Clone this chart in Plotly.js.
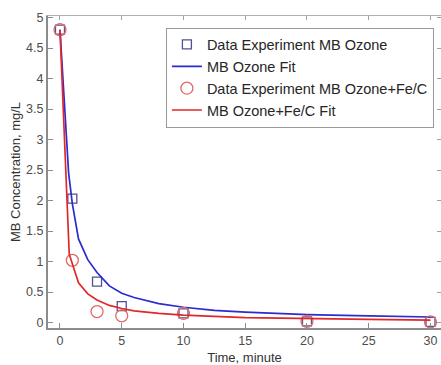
<!DOCTYPE html>
<html>
<head>
<meta charset="utf-8">
<script src="https://cdn.plot.ly/plotly-3.0.1.min.js"></script>
<style>html,body{margin:0;padding:0;background:#fff;overflow:hidden;}</style>
</head>
<body>
<div id="chart" style="width:441px;height:365px;"></div>
<script>
// Experimental data
const timeData = [0, 1, 3, 5, 10, 20, 30];
const ozoneData = [4.8, 2.03, 0.67, 0.27, 0.15, 0.02, 0.01];
const fecData = [4.8, 1.02, 0.18, 0.11, 0.15, 0.02, 0.01];

// Fit curves
const ozoneFitT = [0, 0.7, 1, 1.5, 2.25, 3, 4, 5, 6, 8, 10, 12.5, 15, 20, 25, 30];
const ozoneFitY = [4.8, 2.45, 1.95, 1.37, 1.03, 0.82, 0.6, 0.48, 0.41, 0.31, 0.25, 0.2, 0.17, 0.13, 0.11, 0.09];
const fecFitT = [0, 0.75, 1.5, 2.25, 3, 4, 5, 6, 8, 10, 15, 20, 25, 30];
const fecFitY = [4.8, 1.12, 0.65, 0.47, 0.37, 0.28, 0.23, 0.19, 0.15, 0.12, 0.08, 0.06, 0.05, 0.04];

const xTicks = [0, 5, 10, 15, 20, 25, 30];
const yTicks = [0, 0.5, 1, 1.5, 2, 2.5, 3, 3.5, 4, 4.5, 5];
const yTickText = ['0', '0.5', '1', '1.5', '2', '2.5', '3', '3.5', '4', '4.5', '5'];

const xRange = [-0.97, 30.85];
const yRange = [-0.09, 5.025];

const traces = [
  {x: timeData, y: ozoneData, mode: 'markers', name: 'Data Experiment MB Ozone',
   marker: {symbol: 'square-open', size: 9, color: '#4f5290', line: {width: 1.3}}},
  {x: ozoneFitT, y: ozoneFitY, mode: 'lines', name: 'MB Ozone Fit',
   line: {color: '#2b2bd0', width: 1.7}},
  {x: timeData, y: fecData, mode: 'markers', name: 'Data Experiment MB Ozone+Fe/C',
   marker: {symbol: 'circle-open', size: 12, color: '#e06a6a', line: {width: 1.3}}},
  {x: fecFitT, y: fecFitY, mode: 'lines', name: 'MB Ozone+Fe/C Fit',
   line: {color: '#e02828', width: 1.7}},
  {x: [], y: [], xaxis: 'x2', yaxis: 'y2', showlegend: false, hoverinfo: 'skip'}
];

const tickFont = {family: 'Liberation Sans, Arial, sans-serif', size: 12.5, color: '#4d4d4d'};

const layout = {
  width: 441, height: 365,
  margin: {l: 48, r: 0, t: 15.5, b: 37.3},
  paper_bgcolor: '#fff', plot_bgcolor: '#fff',
  showlegend: true,
  legend: {
    x: 0.30, y: 0.963, xanchor: 'left', yanchor: 'top',
    bgcolor: '#fff', bordercolor: '#9a9a9a', borderwidth: 1,
    font: {family: 'Liberation Sans, Arial, sans-serif', size: 14.5, color: '#262626'},
    tracegroupgap: 0
  },
  xaxis: {
    range: xRange, tickvals: xTicks, ticktext: xTicks.map(String),
    showline: true, linecolor: '#8c8c8c', linewidth: 2,
    ticks: 'inside', ticklen: 5, tickcolor: '#8c8c8c', tickwidth: 1,
    showgrid: false, zeroline: false, tickfont: tickFont,
    title: {text: 'Time, minute', font: {family: 'Liberation Sans, Arial, sans-serif', size: 13, color: '#333'}, standoff: 7}
  },
  yaxis: {
    range: yRange, tickvals: yTicks, ticktext: yTickText,
    showline: true, linecolor: '#8c8c8c', linewidth: 2,
    ticks: 'inside', ticklen: 5, tickcolor: '#8c8c8c', tickwidth: 1,
    showgrid: false, zeroline: false, tickfont: tickFont,
    title: {text: 'MB Concentration, mg/L', font: {family: 'Liberation Sans, Arial, sans-serif', size: 13, color: '#333'}, standoff: 3}
  },
  xaxis2: {
    overlaying: 'x', side: 'top', range: xRange, tickvals: xTicks,
    showticklabels: false, showline: true, linecolor: '#b0b0b0', linewidth: 1,
    ticks: 'inside', ticklen: 4, tickcolor: '#a0a0a0', showgrid: false, zeroline: false
  },
  yaxis2: {
    overlaying: 'y', side: 'right', range: yRange, tickvals: yTicks,
    showticklabels: false, showline: true, linecolor: '#b0b0b0', linewidth: 1,
    ticks: 'inside', ticklen: 4, tickcolor: '#a0a0a0', showgrid: false, zeroline: false
  }
};

Plotly.newPlot('chart', traces, layout, {displayModeBar: false, staticPlot: true});
</script>
</body>
</html>
